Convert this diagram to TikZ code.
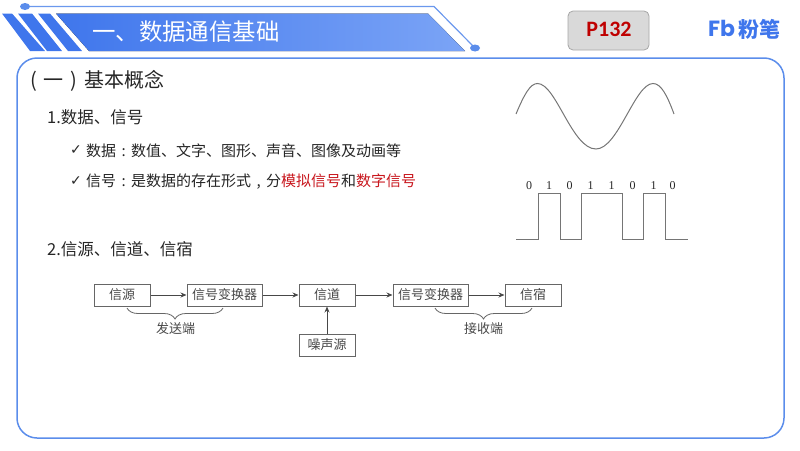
\documentclass[tikz,border=0pt]{standalone}
\usepackage{fontspec}
\setmainfont{Noto Sans CJK SC}
\newfontfamily\symbfont{DejaVu Sans}
\newfontfamily\chiffres{Liberation Serif}
\newfontfamily\etiquette{Carlito}
\newfontfamily\logofont{Poppins}
\usetikzlibrary{arrows.meta, decorations.pathreplacing}
\definecolor{bleu}{HTML}{5B8DEB}
\definecolor{bande}{HTML}{3F76EC}
\definecolor{bandeclair}{HTML}{7BA4F6}
\definecolor{rouge}{HTML}{C8161D}
\definecolor{texte}{HTML}{262626}
\definecolor{gris}{HTML}{666666}
\newcommand{\pointage}[1]{\makebox[15pt]{#1}}

\begin{document}
\begin{tikzpicture}[x=1pt, y=-1pt]
\tikzset{boite/.style={draw=gris, line width=1pt, minimum width=56pt, minimum height=22pt, inner sep=0pt, text=texte!85, font=\fontsize{13}{13}\selectfont}}
\tikzset{ligne/.style={anchor=west, inner sep=0pt, text=texte}}
\tikzset{chiffre/.style={inner sep=0pt, text=texte, font=\chiffres\fontsize{12}{12}\selectfont}}
\tikzset{onde/.style={draw=gris!90, line width=1pt}}
\tikzset{fleche/.style={gris!70!black, line width=0.8pt, -{Stealth[length=6pt, width=5pt]}}}
\useasboundingbox (0, 0) rectangle (800, 450);
% bandeau
\fill[left color=bande, right color=bandeclair] (56, 13.5) -- (428, 13.5) -- (465, 51) -- (89, 51) -- cycle;
\fill[bande] (2, 13.5) -- (12, 13.5) -- (45, 51) -- (30, 51) -- cycle;
\fill[bande] (18, 13.5) -- (32, 13.5) -- (62, 51) -- (47, 51) -- cycle;
\fill[bande] (38, 13.5) -- (50, 13.5) -- (82, 51) -- (68, 51) -- cycle;
\draw[bleu!90, line width=1.2pt] (25, 6.5) -- (434, 6.5) -- (475, 48);
\fill[bleu] (25, 6.5) ellipse (5 and 3.5);
\fill[bleu] (475, 48) ellipse (5 and 3.5);
\node[ligne, text=white, font=\fontsize{23.4}{24}\selectfont] (Titre) at (92, 32) {一、数据通信基础};
% page et logo
\draw[fill=black!15, draw=black!35, line width=0.8pt, rounded corners=5pt] (568, 11) rectangle (649, 50);
\node[text=red!75!black, font=\etiquette\bfseries\fontsize{22}{22}\selectfont] (Page) at (609, 29) {P132};
\node[ligne, text=bande, font=\logofont\bfseries\fontsize{22}{22}\selectfont] (Logo) at (708, 28) {Fb};
\node[ligne, text=bande, font=\bfseries\fontsize{21}{21}\selectfont] (Marque) at (738, 29) {粉笔};
% cadre
\draw[bleu, line width=1.5pt, rounded corners=20pt] (17, 58) rectangle (784, 438);
\node[ligne, font=\fontsize{20}{20}\selectfont] (Partie) at (30, 81) {(\hspace{2.3pt} 一\hspace{2.3pt} )\hspace{2.3pt} 基本概念};
\node[ligne, font=\fontsize{16.5}{17}\selectfont] (L1) at (47, 117) {1.数据、信号};
\node[ligne, font=\symbfont\fontsize{14}{14}\selectfont] (C1) at (70, 150) {✓};
\node[ligne, font=\fontsize{15}{15}\selectfont] (L2) at (86, 151) {数据\pointage{:}数值、文字、图形、声音、图像及动画等};
\node[ligne, font=\symbfont\fontsize{14}{14}\selectfont] (C2) at (70, 181) {✓};
\node[ligne, font=\fontsize{15}{15}\selectfont] (L3) at (86, 182) {信号\pointage{:}是数据的存在形式\pointage{,}分\textcolor{rouge}{模拟信号}和\textcolor{rouge}{数字信号}};
\node[ligne, font=\fontsize{16.5}{17}\selectfont] (L4) at (47, 249) {2.信源、信道、信宿};
% signaux
\draw[onde] (516, 114) .. controls (524, 95) and (530, 83.5) .. (537.5, 83.5) .. controls (556, 83.5) and (572, 149) .. (596, 149) .. controls (618, 149) and (635, 83.5) .. (653, 83.5) .. controls (661, 83.5) and (667, 95) .. (674, 114);
\draw[onde] (516, 239.5) -- (538.5, 239.5) -- (538.5, 193.5) -- (560.5, 193.5) -- (560.5, 239.5) -- (581.5, 239.5) -- (581.5, 193.5) -- (622, 193.5) -- (622, 239.5) -- (643, 239.5) -- (643, 193.5) -- (665.5, 193.5) -- (665.5, 239.5) -- (688, 239.5);
\node[chiffre] (D1) at (529, 186) {0};
\node[chiffre] (D2) at (549, 186) {1};
\node[chiffre] (D3) at (569.5, 186) {0};
\node[chiffre] (D4) at (590.5, 186) {1};
\node[chiffre] (D5) at (611.5, 186) {1};
\node[chiffre] (D6) at (632.5, 186) {0};
\node[chiffre] (D7) at (653.5, 186) {1};
\node[chiffre] (D8) at (672.5, 186) {0};
% chaine de transmission
\node[boite] (Source) at (122, 295) {信源};
\node[boite, minimum width=75pt] (Conv1) at (224.5, 295) {信号变换器};
\node[boite] (Canal) at (327, 295) {信道};
\node[boite, minimum width=75pt] (Conv2) at (430.5, 295) {信号变换器};
\node[boite] (Dest) at (533, 295) {信宿};
\node[boite] (Bruit) at (327, 345) {噪声源};
\draw[fleche] (Source) -- (Conv1);
\draw[fleche] (Conv1) -- (Canal);
\draw[fleche] (Canal) -- (Conv2);
\draw[fleche] (Conv2) -- (Dest);
\draw[fleche] (Bruit) -- (Canal);
\coordinate (A1) at (127, 308);
\coordinate (A2) at (223, 308);
\coordinate (B1) at (435, 308);
\coordinate (B2) at (532, 308);
\draw[gris, line width=0.8pt, decorate, decoration={brace, mirror, amplitude=11pt}] (A1) -- (A2);
\draw[gris, line width=0.8pt, decorate, decoration={brace, mirror, amplitude=11pt}] (B1) -- (B2);
\node[inner sep=0pt, text=texte!85, font=\fontsize{13}{13}\selectfont] (Envoi) at (175.5, 329) {发送端};
\node[inner sep=0pt, text=texte!85, font=\fontsize{13}{13}\selectfont] (Recu) at (483.5, 329) {接收端};
\end{tikzpicture}
\end{document}
